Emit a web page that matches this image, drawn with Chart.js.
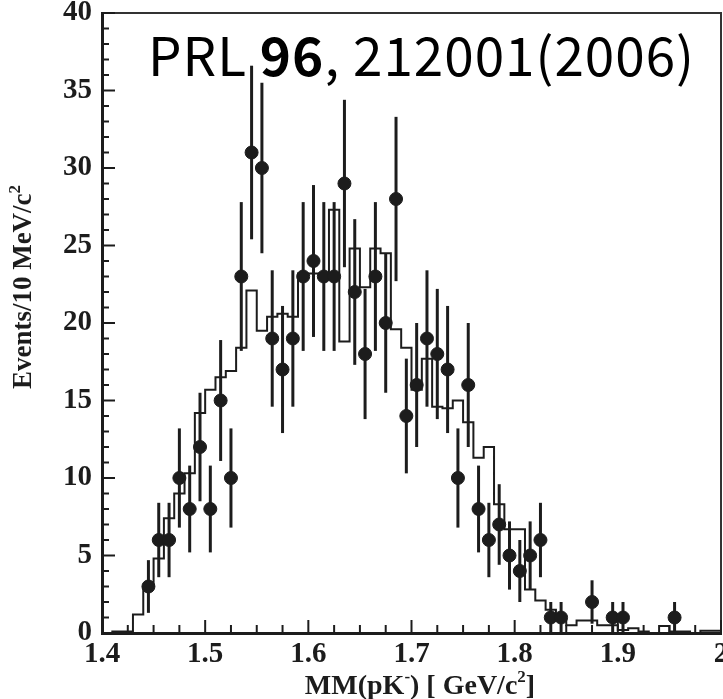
<!DOCTYPE html>
<html>
<head>
<meta charset="utf-8">
<script src="https://cdn.jsdelivr.net/npm/chart.js@4.4.0/dist/chart.umd.min.js"></script>
<style>
  body { margin: 0; background: #fff; }
  #wrap { width: 723px; height: 699px; position: relative; }
</style>
</head>
<body>
<div id="wrap"><canvas id="myChart"></canvas></div>
<script>
// measured points (bin centres, GeV/c^2) and counts per 10 MeV
const massBins = [1.445, 1.455, 1.465, 1.475, 1.485, 1.495, 1.505, 1.515, 1.525, 1.535,
	1.545, 1.555, 1.565, 1.575, 1.585, 1.595, 1.605, 1.615, 1.625, 1.635,
	1.645, 1.655, 1.665, 1.675, 1.685, 1.695, 1.705, 1.715, 1.725, 1.735,
	1.745, 1.755, 1.765, 1.775, 1.785, 1.795, 1.805, 1.815, 1.825, 1.835,
	1.845, 1.875, 1.895, 1.905, 1.955];
const events = [3, 6, 6, 10, 8, 12, 8, 15, 10, 23,
	31, 30, 19, 17, 19, 23, 24, 23, 23, 29,
	22, 18, 23, 20, 28, 14, 16, 19, 18, 17,
	10, 16, 8, 6, 7, 5, 4, 5, 6, 1,
	1, 2, 1, 1, 1];
const errors = [1.7, 2.4, 2.4, 3.2, 2.8, 3.5, 2.8, 3.9, 3.2, 4.8,
	5.6, 5.5, 4.4, 4.1, 4.4, 4.8, 4.9, 4.8, 4.8, 5.4,
	4.7, 4.2, 4.8, 4.5, 5.3, 3.7, 4.0, 4.4, 4.2, 4.1,
	3.2, 4.0, 2.8, 2.4, 2.6, 2.2, 2.0, 2.2, 2.4, 1.0,
	1.0, 1.4, 1.0, 1.0, 1.0];

// simulated spectrum: left bin edges + level of each bin (last edge closes it)
const mcEdges = [1.40, 1.41, 1.42, 1.43, 1.44, 1.45, 1.46, 1.47, 1.48, 1.49,
	1.50, 1.51, 1.52, 1.53, 1.54, 1.55, 1.56, 1.57, 1.58, 1.59,
	1.60, 1.61, 1.62, 1.63, 1.64, 1.65, 1.66, 1.67, 1.68, 1.69,
	1.70, 1.71, 1.72, 1.73, 1.74, 1.75, 1.76, 1.77, 1.78, 1.79,
	1.80, 1.81, 1.82, 1.83, 1.84, 1.85, 1.86, 1.87, 1.88, 1.89,
	1.90, 1.91, 1.92, 1.93, 1.94, 1.95, 1.96, 1.97, 1.98, 1.99, 2.00];
const mcLevels = [0, 0.1, 0.1, 1.2, 3.0, 4.8, 7.4, 9.0, 10.3, 14.2,
	15.7, 16.5, 16.9, 18.4, 22.1, 19.5, 20.4, 20.6, 20.4, 23.2,
	23.2, 23.2, 27.3, 18.8, 24.8, 22.3, 24.8, 24.5, 19.6, 18.4,
	15.7, 17.7, 14.6, 14.5, 15.0, 13.6, 11.3, 12.0, 8.3, 6.7,
	6.7, 2.8, 2.1, 1.5, 0.8, 0.5, 0.8, 0.8, 0.5, 0.5,
	0.2, 0.3, 0.1, 0, 0.45, 0.1, 0.1, 0, 0.15, 0.15, 0.15];

const xMin = 1.4, xMax = 2.0, yMin = 0, yMax = 40;
const xTitle = [["MM(pK", 0], ["-", 1], [") [ GeV/c", 0], ["2", 1], ["]", 0]];
const yTitle = [["Events/10 MeV/c", 0], ["2", 1]];
const ink = "#1c1c1c";
const serif = "'Liberation Serif', 'Times New Roman', serif";

function drawParts(ctx, parts, x, y, size) {
	// draws text with superscripts, centred at x, baseline y
	const big = `bold ${size}px ${serif}`;
	const small = `bold ${Math.round(size * 0.62)}px ${serif}`;
	let total = 0;
	parts.forEach((p) => {
		ctx.font = p[1] ? small : big;
		total += ctx.measureText(p[0]).width;
	});
	let cx = x - total / 2;
	ctx.textAlign = "left";
	ctx.textBaseline = "alphabetic";
	parts.forEach((p) => {
		ctx.font = p[1] ? small : big;
		ctx.fillText(p[0], cx, p[1] ? y - size * 0.42 : y);
		cx += ctx.measureText(p[0]).width;
	});
}

const errorBars = {
	id: "errorBars",
	beforeDatasetsDraw(chart) {
		const { ctx, scales } = chart;
		ctx.save();
		ctx.strokeStyle = ink;
		ctx.lineWidth = 3;
		massBins.forEach((m, i) => {
			const px = scales.x.getPixelForValue(m);
			const hi = scales.y.getPixelForValue(events[i] + errors[i]);
			const lo = scales.y.getPixelForValue(Math.max(0, events[i] - errors[i]));
			ctx.beginPath();
			ctx.moveTo(px, hi);
			ctx.lineTo(px, lo);
			ctx.stroke();
		});
		ctx.restore();
	},
};

const frameAndText = {
	id: "frameAndText",
	afterDraw(chart) {
		const { ctx, chartArea: a, scales } = chart;
		ctx.save();
		// top and right frame
		ctx.strokeStyle = "#333";
		ctx.lineWidth = 2;
		ctx.beginPath();
		ctx.moveTo(a.left, a.top);
		ctx.lineTo(a.right, a.top);
		ctx.lineTo(a.right, a.bottom);
		ctx.stroke();
		// inward ticks
		ctx.strokeStyle = ink;
		ctx.lineWidth = 2;
		for (let v = yMin; v <= yMax; v++) {
			const py = scales.y.getPixelForValue(v);
			const len = v % 5 === 0 ? 13 : 7;
			ctx.beginPath();
			ctx.moveTo(a.left, py);
			ctx.lineTo(a.left + len, py);
			ctx.stroke();
		}
		for (let i = 0; i <= 24; i++) {
			const px = scales.x.getPixelForValue(xMin + i * 0.025);
			const len = i % 4 === 0 ? 13 : 8;
			ctx.beginPath();
			ctx.moveTo(px, a.bottom);
			ctx.lineTo(px, a.bottom - len);
			ctx.stroke();
		}
		// axis titles
		ctx.fillStyle = ink;
		drawParts(ctx, xTitle, 420, 694, 28);
		ctx.save();
		ctx.translate(31, 287);
		ctx.rotate(-Math.PI / 2);
		drawParts(ctx, yTitle, 0, 0, 27);
		ctx.restore();
		// reference label
		const sans = "'Noto Sans CJK JP', 'Noto Sans', sans-serif";
		const pieces = [["PRL ", "400"], ["96", "700"], [", 212001(2006)", "400"]];
		let cx = 148;
		ctx.fillStyle = "#000";
		ctx.textBaseline = "alphabetic";
		ctx.letterSpacing = "1px";
		pieces.forEach((p) => {
			ctx.font = `${p[1]} 53px ${sans}`;
			ctx.fillText(p[0], cx, 76);
			cx += ctx.measureText(p[0]).width;
		});
		ctx.restore();
	},
};

const ctx = document.querySelector("#myChart").getContext("2d");
const chart = new Chart(ctx, {
	type: "scatter",
	data: {
		datasets: [
			{
				label: "data",
				data: massBins.map((m, i) => ({ x: m, y: events[i] })),
				backgroundColor: ink,
				borderColor: ink,
				pointRadius: 6.5,
				pointHoverRadius: 6.5,
			},
			{
				label: "MC",
				type: "line",
				data: mcEdges.map((e, i) => ({ x: e, y: mcLevels[i] })),
				stepped: "before",
				borderColor: ink,
				borderWidth: 2,
				pointRadius: 0,
				fill: false,
			},
		],
	},
	options: {
		responsive: true,
		maintainAspectRatio: false,
		animation: false,
		layout: { autoPadding: false, padding: { top: 13, right: 2, left: 0, bottom: 0 } },
		plugins: { legend: { display: false }, tooltip: { enabled: false }, title: { display: false } },
		scales: {
			x: {
				type: "linear",
				min: xMin,
				max: xMax,
				grid: { display: false, drawTicks: false },
				border: { display: true, color: ink, width: 3 },
				ticks: {
					stepSize: 0.1,
					autoSkip: false,
					maxRotation: 0,
					padding: 4,
					color: ink,
					font: { family: serif, size: 29, weight: "bold" },
					callback: (v) => (Math.abs(v - 2) < 1e-6 ? "2" : v.toFixed(1)),
				},
				afterFit: (s) => {
					s.height = 66;
					s.paddingLeft = 0;
					s.paddingRight = 0;
				},
			},
			y: {
				min: yMin,
				max: yMax,
				grid: { display: false, drawTicks: false },
				border: { display: true, color: ink, width: 3 },
				ticks: {
					stepSize: 5,
					padding: 10,
					color: ink,
					font: { family: serif, size: 29, weight: "bold" },
				},
				afterFit: (s) => {
					s.width = 102;
					s.paddingTop = 0;
					s.paddingBottom = 0;
				},
			},
		},
	},
	plugins: [errorBars, frameAndText],
});
</script>
</body>
</html>
